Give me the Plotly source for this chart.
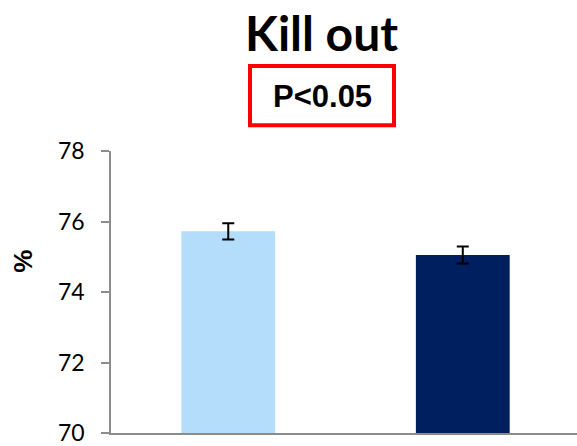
import plotly.graph_objects as go

categories = ["A", "B"]
values = [75.72, 75.05]
errors = [0.23, 0.24]
colors = ["#b3ddfb", "#001f5f"]
yticks = [70, 72, 74, 76, 78]

W, H = 577, 446
L, R, T, B = 111, 0, 151, 10
pw, ph = W - L - R, H - T - B
def dx(px): return (px - L) / pw
def dy(py): return (H - B - py) / ph

fig = go.Figure()
fig.add_trace(go.Bar(
    x=categories, y=values, width=0.4,
    marker=dict(color=colors, line=dict(width=0)),
    error_y=dict(type="data", array=errors, visible=True, color="black", thickness=2, width=6),
))

fig.update_layout(
    width=W, height=H,
    margin=dict(l=L, r=R, t=T, b=B),
    plot_bgcolor="white", paper_bgcolor="white",
    showlegend=False,
    font=dict(family="Lato, sans-serif", color="black"),
    xaxis=dict(range=[-0.5, 1.487], showticklabels=False, showline=True,
               linecolor="#8c8c8c", linewidth=1.5, ticks="", showgrid=False, zeroline=False),
    yaxis=dict(range=[70, 78], tickvals=yticks, showline=True, linecolor="#8c8c8c",
               linewidth=1.5, ticks="outside", ticklen=8, tickcolor="#8c8c8c", tickwidth=1.5,
               showgrid=False, zeroline=False, tickfont=dict(size=23, family="Lato, sans-serif"),
               ticklabelstandoff=12, ticklabeloverflow="allow"),
)

fig.add_annotation(text="<b>Kill out</b>", xref="x domain", yref="y domain",
                   x=dx(321), y=dy(31), xanchor="center", yanchor="middle", showarrow=False,
                   font=dict(size=48, family="Lato, sans-serif"))
fig.add_annotation(text="<b>%</b>", xref="x domain", yref="y domain",
                   x=dx(23), y=dy(263), xanchor="center", yanchor="middle", showarrow=False,
                   textangle=-90, font=dict(size=26, family="Liberation Sans, Arial"))

fig.add_shape(type="rect", xref="x domain", yref="y domain",
              x0=dx(250), x1=dx(394), y0=dy(125), y1=dy(65),
              line=dict(color="#ff0000", width=4), fillcolor="white")
fig.add_annotation(text="<b>P<0.05</b>", xref="x domain", yref="y domain",
                   x=dx(322), y=dy(96), xanchor="center", yanchor="middle", showarrow=False,
                   font=dict(size=31, family="Liberation Sans, Arial"))

fig.write_html("out.html", config={"displayModeBar": False},
               post_script="document.body.style.margin='0';document.body.style.overflow='hidden';")
